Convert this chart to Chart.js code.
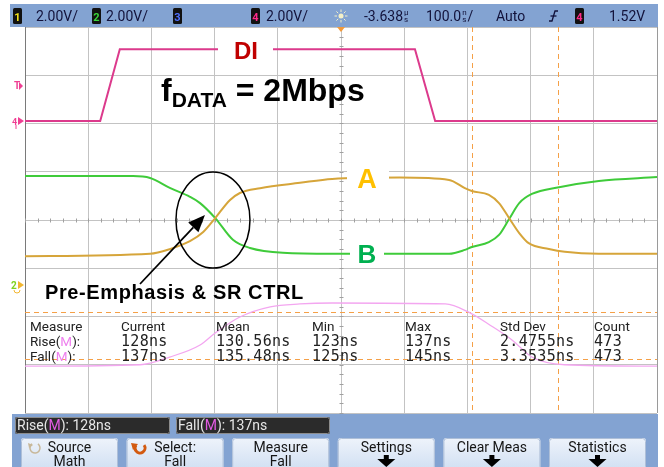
<!DOCTYPE html>
<html>
<head>
<meta charset="utf-8">
<script src="https://cdn.jsdelivr.net/npm/chart.js@4.4.1/dist/chart.umd.min.js"></script>
<style>
html,body{margin:0;padding:0;background:#fff;overflow:hidden}
canvas{display:block}
</style>
</head>
<body>
<canvas id="scope" width="664" height="467"></canvas>
<script>
// ---- Data (time in ns, level in screen divisions) ----
const diTime  = [-500, -381, -350, 117, 149, 500];
const diLevel = [2.05, 2.05, 3.54, 3.54, 2.05, 2.05];

const aTime  = [-500,-302,-270,-239,-218,-199,-176,-160,-128,-65,-14,93,171,196,207,234,250,266,282,297,329,354,408,500];
const aLevel = [-0.75,-0.70,-0.60,-0.44,-0.25,0.04,0.41,0.56,0.66,0.77,0.85,0.88,0.83,0.66,0.60,0.52,0.35,0.04,-0.27,-0.48,-0.60,-0.66,-0.70,-0.70];

const bTime  = [-500,-329,-302,-270,-239,-223,-199,-171,-144,-92,-14,171,196,207,234,250,266,282,302,345,408,500];
const bLevel = [0.91,0.91,0.87,0.66,0.48,0.35,0.04,-0.41,-0.58,-0.68,-0.70,-0.70,-0.62,-0.56,-0.46,-0.31,0.02,0.35,0.54,0.68,0.81,0.89];

const mTime  = [-500,-318,-271,-223,-199,-160,-112,-65,-14,165,202,236,271,302,354,500];
const mLevel = [-3.03,-3.00,-2.84,-2.59,-2.34,-2.01,-1.80,-1.74,-1.72,-1.74,-1.91,-2.18,-2.49,-2.84,-3.00,-3.03];

const cursorTimes  = [208, 344];
const cursorLevels = [-1.91, -2.88];
const crossingTime = -201;

// ---- Texts ----
const tableHeaders = ['Measure','Current','Mean','Min','Max','Std Dev','Count'];
const riseRow = ['128ns','130.56ns','123ns','137ns','2.4755ns','473'];
const fallRow = ['137ns','135.48ns','125ns','145ns','3.3535ns','473'];
const buttonTop = ['Source','Select:','Measure','Settings','Clear Meas','Statistics'];
const buttonBottom = ['Math','Fall','Fall','','',''];
const statusRise = '128ns';
const statusFall = '137ns';

const UI = "Roboto, 'DejaVu Sans', sans-serif";
const BOLD = "'Liberation Sans', Arial, sans-serif";
const MONO = "'DejaVu Sans Mono', monospace";

function pts(t, v){ return t.map((x,i)=>({x:x, y:v[i]})); }

function txt(c, s, x, y, font, color, align){
  c.font = font; c.fillStyle = color; c.textAlign = align || 'left'; c.textBaseline = 'alphabetic';
  c.fillText(s, x, y);
}
function parts(c, list, x, y, font){
  c.font = font; c.textAlign='left'; c.textBaseline='alphabetic';
  let cx = x;
  for (const [s,col] of list){ c.fillStyle = col; c.fillText(s, cx, y); cx += c.measureText(s).width; }
  return cx;
}
function rrect(c, x, y, w, h, r){
  c.beginPath(); c.moveTo(x+r,y); c.lineTo(x+w-r,y); c.quadraticCurveTo(x+w,y,x+w,y+r);
  c.lineTo(x+w,y+h-r); c.quadraticCurveTo(x+w,y+h,x+w-r,y+h); c.lineTo(x+r,y+h);
  c.quadraticCurveTo(x,y+h,x,y+h-r); c.lineTo(x,y+r); c.quadraticCurveTo(x,y,x+r,y); c.closePath();
}
function chBox(c, x, digit, col){
  c.fillStyle = '#111'; rrect(c, x, 8, 9, 16, 1.5); c.fill();
  txt(c, digit, x+4.5, 21, "bold 11px " + UI, col, 'center');
}
function stacked(c, top, bot, x, y, col){
  txt(c, top, x, y-6, "8px " + UI, col, 'left');
  txt(c, bot, x, y+1, "8px " + UI, col, 'left');
  c.font = "8px " + UI;
  return x + Math.max(c.measureText(top).width, c.measureText(bot).width) + 1;
}

const overlay = {
  id: 'overlay',
  beforeDraw(chart){
    const c = chart.ctx; c.save(); c.fillStyle = '#fff'; c.fillRect(0,0,chart.width,chart.height); c.restore();
  },
  beforeDatasetsDraw(chart){
    const c = chart.ctx, xs = chart.scales.x, ys = chart.scales.y, a = chart.chartArea;
    c.save();
    // frame
    c.strokeStyle = '#7a7a7a'; c.lineWidth = 1;
    c.beginPath(); c.moveTo(a.left+0.5, a.top); c.lineTo(a.left+0.5, a.bottom); c.stroke();
    c.strokeStyle = '#9a9a9a';
    c.beginPath(); c.moveTo(a.right+0.5, a.top); c.lineTo(a.right+0.5, a.bottom); c.stroke();
    // center minor ticks
    c.strokeStyle = '#a0a0a0';
    const cy = Math.round(ys.getPixelForValue(0)) + 0.5;
    const cx = Math.round(xs.getPixelForValue(0)) + 0.5;
    for (let t = -500; t <= 500; t += 20){
      const px = Math.round(xs.getPixelForValue(t)) + 0.5;
      c.beginPath(); c.moveTo(px, cy-2); c.lineTo(px, cy+2); c.stroke();
    }
    for (let v = -4; v <= 4; v += 0.2){
      const py = Math.round(ys.getPixelForValue(v)) + 0.5;
      c.beginPath(); c.moveTo(cx-2, py); c.lineTo(cx+2, py); c.stroke();
    }
    // cursors
    c.strokeStyle = '#f5a047'; c.lineWidth = 1; c.setLineDash([5,4]);
    for (const t of cursorTimes){
      const px = Math.round(xs.getPixelForValue(t)) + 0.5;
      c.beginPath(); c.moveTo(px, a.top); c.lineTo(px, a.bottom); c.stroke();
    }
    for (const v of cursorLevels){
      const py = Math.round(ys.getPixelForValue(v)) + 0.5;
      c.beginPath(); c.moveTo(a.left, py); c.lineTo(a.right, py); c.stroke();
    }
    c.setLineDash([]);
    c.restore();
  },
  afterDatasetsDraw(chart){
    const c = chart.ctx, xs = chart.scales.x, ys = chart.scales.y, a = chart.chartArea;
    c.save();
    // ---- measurement table ----
    const colX = [30,121,216,312,405,500,594];
    tableHeaders.forEach((h,i)=> txt(c, h, colX[i], 331, "13.5px " + UI, '#222'));
    parts(c, [['Rise(','#222'],['M','#ee80ee'],['):','#222']], colX[0], 346, "13.5px " + UI);
    parts(c, [['Fall(','#222'],['M','#ee80ee'],['):','#222']], colX[0], 361, "13.5px " + UI);
    c.letterSpacing = '0.3px';
    riseRow.forEach((s,i)=> txt(c, s, colX[i+1], 346, "15px " + MONO, '#222'));
    fallRow.forEach((s,i)=> txt(c, s, colX[i+1], 361, "15px " + MONO, '#222'));
    c.letterSpacing = '0px';

    // ---- header bar ----
    c.fillStyle = '#83a3d2'; c.fillRect(10, 4, 648, 23);
    const hc = '#12123a', hf = "14px " + UI;
    chBox(c, 13, '1', '#f2e21a');
    txt(c, '2.00V/', 36, 21, hf, hc);
    chBox(c, 92, '2', '#3ad43a');
    txt(c, '2.00V/', 106, 21, hf, hc);
    chBox(c, 173, '3', '#5070ff');
    chBox(c, 251, '4', '#ff2a8a');
    txt(c, '2.00V/', 266, 21, hf, hc);
    // sun icon
    c.strokeStyle = '#f4f0c8'; c.fillStyle = '#f4f0c8'; c.lineWidth = 1;
    c.beginPath(); c.arc(341, 16, 2.5, 0, Math.PI*2); c.fill();
    for (let k=0;k<8;k++){ const an = k*Math.PI/4; c.beginPath(); c.moveTo(341+Math.cos(an)*4, 16+Math.sin(an)*4); c.lineTo(341+Math.cos(an)*6.5, 16+Math.sin(an)*6.5); c.stroke(); }
    let hx = 364;
    txt(c, '-3.638', hx, 21, hf, hc); c.font = hf; hx += c.measureText('-3.638').width + 1;
    stacked(c, 'µ', 's', hx, 21, hc);
    hx = 426;
    txt(c, '100.0', hx, 21, hf, hc); c.font = hf; hx += c.measureText('100.0').width + 1;
    hx = stacked(c, 'n', 's', hx, 21, hc);
    txt(c, '/', hx, 21, hf, hc);
    txt(c, 'Auto', 496, 21, hf, hc);
    // trigger edge icon
    c.strokeStyle = '#12123a'; c.lineWidth = 1.3;
    c.beginPath(); c.moveTo(549, 21); c.lineTo(552, 21); c.lineTo(555, 11); c.lineTo(558, 11); c.stroke();
    c.beginPath(); c.moveTo(550.5, 16); c.lineTo(556.5, 16); c.stroke();
    chBox(c, 575, '4', '#ff2a8a');
    txt(c, '1.52V', 609, 21, hf, hc);
    // time reference marker
    c.fillStyle = '#f39a3a';
    const tr = Math.round(xs.getPixelForValue(0));
    c.beginPath(); c.moveTo(tr-4, 27); c.lineTo(tr+4, 27); c.lineTo(tr, 32); c.closePath(); c.fill();

    // ---- left channel markers ----
    txt(c, 'T', 14, 89, "bold 10px " + UI, '#ef3f93');
    c.fillStyle = '#ef3f93';
    c.beginPath(); c.moveTo(19, 82); c.lineTo(23, 86); c.lineTo(19, 90); c.closePath(); c.fill();
    const g4 = Math.round(ys.getPixelForValue(diLevel[0]));
    txt(c, '4', 12, g4+4, "bold 9px " + UI, '#ef3f93');
    c.beginPath(); c.moveTo(18, g4-4); c.lineTo(24, g4); c.lineTo(18, g4+4); c.closePath(); c.fill();
    c.strokeStyle = '#ef3f93'; c.lineWidth = 1;
    c.beginPath(); c.moveTo(16, g4+4); c.lineTo(16, g4+8); c.stroke();
    txt(c, '2', 11, 289, "bold 10px " + UI, '#7ed321');
    c.fillStyle = '#f2b630';
    c.beginPath(); c.moveTo(18, 281); c.lineTo(24, 285); c.lineTo(18, 289); c.closePath(); c.fill();
    c.strokeStyle = '#f2b630';
    c.beginPath(); c.arc(17, 290, 3, 0, Math.PI); c.stroke();

    // ---- annotations ----
    c.fillStyle = '#fff';
    c.fillRect(218, 36, 55, 27);
    c.fillRect(347, 166, 42, 28);
    c.fillRect(350, 243, 34, 25);
    txt(c, 'DI', 246, 59, "bold 24px " + BOLD, '#c00000', 'center');
    txt(c, 'A', 367, 188, "bold 27px " + BOLD, '#ffc000', 'center');
    txt(c, 'B', 367, 263, "bold 26px " + BOLD, '#00b050', 'center');
    let fx = 161;
    txt(c, 'f', fx, 101, "bold 32px " + BOLD, '#000'); c.font = "bold 32px " + BOLD; fx += c.measureText('f').width;
    txt(c, 'DATA', fx, 107, "bold 21px " + BOLD, '#000'); c.font = "bold 21px " + BOLD; fx += c.measureText('DATA').width;
    txt(c, ' = 2Mbps', fx, 101, "bold 32px " + BOLD, '#000');
    c.letterSpacing = '0.6px';
    txt(c, 'Pre-Emphasis & SR CTRL', 45, 299, "bold 20px " + BOLD, '#000');
    c.letterSpacing = '0px';
    // ellipse around crossing
    const ex = xs.getPixelForValue(crossingTime), ey = ys.getPixelForValue(0);
    c.strokeStyle = '#000'; c.lineWidth = 1.5;
    c.beginPath(); c.ellipse(ex-1, ey, 37, 48, 0, 0, Math.PI*2); c.stroke();
    // arrow
    const tx0 = 140, ty0 = 284, tx1 = ex - 9, ty1 = ey - 5;
    const ang = Math.atan2(ty1-ty0, tx1-tx0), hl = 17, hw = 7;
    const bx = tx1 - Math.cos(ang)*hl, by = ty1 - Math.sin(ang)*hl;
    c.lineWidth = 1.8;
    c.beginPath(); c.moveTo(tx0, ty0); c.lineTo(bx, by); c.stroke();
    c.fillStyle = '#000';
    c.beginPath(); c.moveTo(tx1, ty1);
    c.lineTo(bx + Math.sin(ang)*hw, by - Math.cos(ang)*hw);
    c.lineTo(bx - Math.sin(ang)*hw, by + Math.cos(ang)*hw);
    c.closePath(); c.fill();

    // ---- bottom bar ----
    c.fillStyle = '#83a3d2'; c.fillRect(12, 414, 646, 53);
    const sb = [[15, 155, 'Rise(', statusRise], [176, 154, 'Fall(', statusFall]];
    for (const [x,w,lab,val] of sb){
      c.fillStyle = '#2b2b2b'; rrect(c, x, 417, w, 17, 2); c.fill();
      c.strokeStyle = '#8c8c8c'; c.lineWidth = 1; rrect(c, x+0.5, 417.5, w-1, 16, 2); c.stroke();
      parts(c, [[lab,'#e6e6e6'],['M','#e35be3'],['): ' + val,'#e6e6e6']], x+2, 430, "14px " + UI);
    }
    for (let i=0;i<6;i++){
      const bxl = 21 + i*105.6, bw = 97;
      const grad = c.createLinearGradient(0, 438, 0, 467);
      grad.addColorStop(0, '#eef3fb'); grad.addColorStop(1, '#d3e1f3');
      c.fillStyle = grad; rrect(c, bxl, 438, bw, 32, 3); c.fill();
      c.strokeStyle = '#aebfd8'; c.lineWidth = 1; rrect(c, bxl+0.5, 438.5, bw-1, 31, 3); c.stroke();
      const mid = bxl + bw/2;
      txt(c, buttonTop[i], mid, 452, "14px " + UI, '#151515', 'center');
      if (buttonBottom[i]) txt(c, buttonBottom[i], mid, 466, "14px " + UI, '#151515', 'center');
      else {
        c.fillStyle = '#000';
        c.fillRect(mid-2.5, 455, 5, 6);
        c.beginPath(); c.moveTo(mid-9, 459); c.lineTo(mid+9, 459); c.lineTo(mid, 467); c.closePath(); c.fill();
      }
    }
    // button icons
    c.strokeStyle = '#c8b89a'; c.lineWidth = 1.5;
    c.beginPath(); c.arc(35, 448, 5, -0.3*Math.PI, 1.3*Math.PI); c.stroke();
    c.fillStyle = '#c8b89a';
    c.beginPath(); c.moveTo(28, 443); c.lineTo(33, 445); c.lineTo(29, 448); c.closePath(); c.fill();
    c.strokeStyle = '#d35a10'; c.lineWidth = 3;
    c.beginPath(); c.arc(140, 448, 5, -0.2*Math.PI, 1.2*Math.PI); c.stroke();
    c.fillStyle = '#d35a10';
    c.beginPath(); c.moveTo(131, 443); c.lineTo(138, 444); c.lineTo(133, 450); c.closePath(); c.fill();
    c.restore();
  }
};

new Chart(document.getElementById('scope'), {
  type: 'line',
  data: {
    datasets: [
      { label: 'Math', data: pts(mTime, mLevel), borderColor: '#f3a6f0', borderWidth: 1.3, pointRadius: 0, cubicInterpolationMode: 'monotone' },
      { label: 'A', data: pts(aTime, aLevel), borderColor: '#d6a53a', borderWidth: 2, pointRadius: 0, cubicInterpolationMode: 'monotone' },
      { label: 'B', data: pts(bTime, bLevel), borderColor: '#3fcb3a', borderWidth: 2, pointRadius: 0, cubicInterpolationMode: 'monotone' },
      { label: 'DI', data: pts(diTime, diLevel), borderColor: '#dc3a8c', borderWidth: 2, pointRadius: 0, tension: 0 }
    ]
  },
  options: {
    responsive: false,
    animation: false,
    devicePixelRatio: 1,
    events: [],
    layout: { padding: { left: 25, right: 7, top: 27, bottom: 54 } },
    plugins: { legend: { display: false }, tooltip: { enabled: false } },
    scales: {
      x: { type: 'linear', min: -500, max: 500,
           ticks: { display: false, stepSize: 100 },
           grid: { color: '#c3c3c3', lineWidth: 1, drawTicks: false },
           border: { display: false } },
      y: { type: 'linear', min: -4, max: 4,
           ticks: { display: false, stepSize: 1 },
           grid: { color: '#c3c3c3', lineWidth: 1, drawTicks: false },
           border: { display: false } }
    }
  },
  plugins: [overlay]
});
</script>
</body>
</html>
